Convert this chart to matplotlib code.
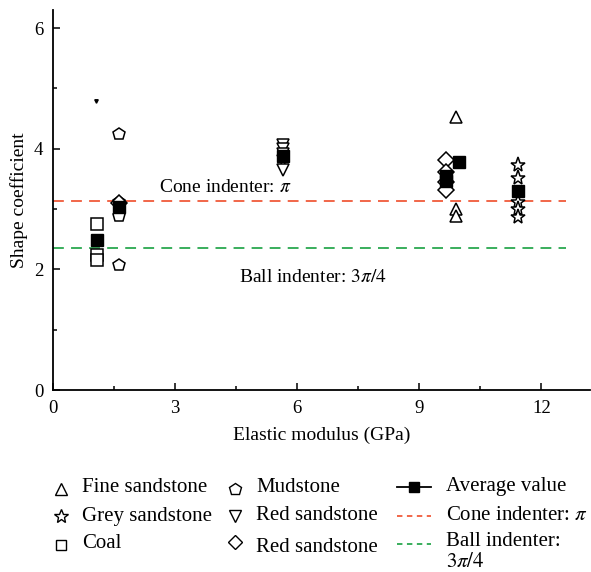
import matplotlib.pyplot as plt
from matplotlib.lines import Line2D
import numpy as np

plt.rcParams['font.family'] = ['Liberation Serif', 'DejaVu Serif']
plt.rcParams['mathtext.fontset'] = 'stix'
plt.rcParams['font.size'] = 14

# values
coal_x = [1.07, 1.07, 1.07]
coal_y = [2.76, 2.24, 2.16]
mud_x = [1.63, 1.63, 1.63, 1.63]
mud_y = [4.25, 3.12, 2.89, 2.08]
red_v_x = [5.66, 5.66, 5.66, 5.66, 5.66]
red_v_y = [4.07, 4.0, 3.92, 3.8, 3.65]
red_d_x = [9.65, 9.65, 9.65, 9.65, 1.63]
red_d_y = [3.82, 3.62, 3.45, 3.32, 3.1]
fine_x = [9.9, 9.9, 9.9]
fine_y = [4.52, 3.01, 2.89]
grey_x = [11.42, 11.42, 11.42, 11.42, 11.42]
grey_y = [3.73, 3.51, 3.12, 3.01, 2.87]
avg_x = [1.07, 1.63, 5.66, 9.65, 9.65, 9.98, 11.42]
avg_y = [2.48, 3.04, 3.88, 3.55, 3.47, 3.78, 3.3]
cone_value = np.pi
ball_value = 3 * np.pi / 4

RED = '#f05a3a'
GREEN = '#2aa84f'
W, H = 591, 572

fig = plt.figure(figsize=(W / 100, H / 100), dpi=100)
ax = fig.add_axes([0.0897, 0.318, 0.909, 0.6645])

open_style = dict(linestyle='none', markerfacecolor='white', markeredgecolor='black',
                  markeredgewidth=1.1, markersize=9)

ax.plot([0, 12.6], [cone_value, cone_value], color=RED, lw=1.3, dashes=(6, 4), zorder=1)
ax.plot([0, 12.6], [ball_value, ball_value], color=GREEN, lw=1.3, dashes=(6, 4), zorder=1)

ax.plot(coal_x, coal_y, marker='s', **open_style)
ax.plot(mud_x, mud_y, marker='p', **open_style)
ax.plot(red_v_x, red_v_y, marker='v', **open_style)
ax.plot(red_d_x, red_d_y, marker='D', **dict(open_style, markersize=8))
ax.plot(fine_x, fine_y, marker='^', **open_style)
ax.plot(grey_x, grey_y, marker='*', **dict(open_style, markersize=11))
ax.plot(avg_x, avg_y, marker='s', linestyle='none', color='black', markersize=8)
ax.plot([1.06], [4.79], marker='v', color='black', markersize=2.5, linestyle='none')

ax.text(2.61, 3.35, r'Cone indenter: $\pi$', ha='left', va='center')
ax.text(4.56, 1.86, r'Ball indenter: $3\pi/4$', ha='left', va='center')

ax.set_xlim(0, 13.2)
ax.set_ylim(0, 6.3)
ax.set_xticks([0, 3, 6, 9, 12])
ax.set_xticks([1.5, 4.5, 7.5, 10.5], minor=True)
ax.set_yticks([0, 2, 4, 6])
ax.set_yticks([1, 3, 5], minor=True)
ax.tick_params(which='both', direction='in', width=1.1, labelsize=13.5)
ax.tick_params(axis='x', pad=7)
ax.tick_params(axis='y', pad=7)
ax.tick_params(which='major', length=5)
ax.tick_params(which='minor', length=3)
for side in ['top', 'right']:
    ax.spines[side].set_visible(False)
for side in ['left', 'bottom']:
    ax.spines[side].set_linewidth(1.3)
ax.set_xlabel('Elastic modulus (GPa)', labelpad=7)
ax.set_ylabel('Shape coefficient', labelpad=4)


# legend drawn by hand in pixel positions of the figure
def fx(px):
    return px / W


def fy(py):
    return 1 - py / H


def legend_marker(px, py, marker, size=9, filled=False):
    face = 'black' if filled else 'white'
    fig.add_artist(Line2D([fx(px)], [fy(py)], transform=fig.transFigure, marker=marker,
                          linestyle='none', markerfacecolor=face, markeredgecolor='black',
                          markeredgewidth=1.0, markersize=size))


def legend_line(px0, px1, py, **kw):
    fig.add_artist(Line2D([fx(px0), fx(px1)], [fy(py), fy(py)], transform=fig.transFigure, **kw))


def legend_text(px, py, s):
    fig.text(fx(px), fy(py), s, ha='left', va='center', fontsize=15, linespacing=1.2)


legend_marker(61, 489, '^')
legend_text(82, 487, 'Fine sandstone')
legend_marker(61, 516, '*', 10)
legend_text(82, 516, 'Grey sandstone')
legend_marker(61, 545, 's', 7.5)
legend_text(82, 544, 'Coal')

legend_marker(235, 489, 'p')
legend_text(256, 487, 'Mudstone')
legend_marker(235, 516, 'v')
legend_text(256, 516, 'Red sandstone')
legend_marker(235, 542, 'D', 7.5)
legend_text(256, 547, 'Red sandstone')

legend_line(397, 431, 487, color='black', lw=1.3)
legend_marker(414, 487, 's', 7.5, filled=True)
legend_text(446, 487, 'Average value')
legend_line(397, 431, 516, color=RED, lw=1.3, dashes=(3, 2.5))
legend_text(446, 516, r'Cone indenter: $\pi$')
legend_line(397, 431, 544, color=GREEN, lw=1.3, dashes=(3, 2.5))
legend_text(446, 552, 'Ball indenter:\n$3\\pi/4$')

fig.savefig('out.png', dpi=100)
